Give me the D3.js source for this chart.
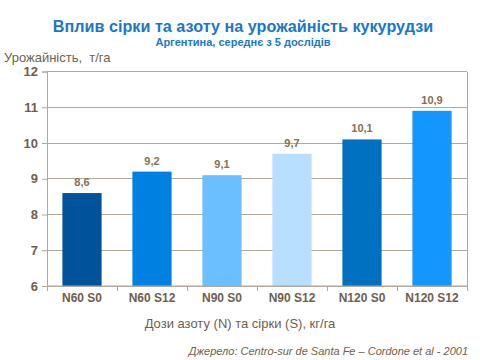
<!DOCTYPE html>
<html><head><meta charset="utf-8">
<script src="https://cdn.jsdelivr.net/npm/d3@7"></script>
<style>body{margin:0;background:#fff;font-family:Arial,"Liberation Sans",sans-serif}</style>
</head><body><svg id="c" width="480" height="360"></svg>
<script>
const categories = ["N60 S0","N60 S12","N90 S0","N90 S12","N120 S0","N120 S12"];
const values = [8.6, 9.2, 9.1, 9.7, 10.1, 10.9];
const valueLabels = ["8,6","9,2","9,1","9,7","10,1","10,9"];
const barColors = ["#00529B","#0080E0","#6BBFFF","#B8DFFF","#0070C0","#1496FF"];
const yTicks = [6,7,8,9,10,11,12];

const svg = d3.select("#c");
const L=47, R=467, T=71.5, B=286;
const x = d3.scaleBand().domain(categories).range([L,R]).paddingInner(0.44).paddingOuter(0.22);
const y = d3.scaleLinear().domain([6,12]).range([B,T]);
const grid="#B0A898", txt="#6E5E4C";

// gridlines
svg.append("g").selectAll("line").data(yTicks).join("line")
  .attr("x1",L).attr("x2",R).attr("y1",d=>y(d)).attr("y2",d=>y(d))
  .attr("stroke",grid).attr("stroke-width",1).attr("shape-rendering","crispEdges");
svg.append("line").attr("x1",R).attr("x2",R).attr("y1",T).attr("y2",B)
  .attr("stroke",grid).attr("shape-rendering","crispEdges");

// bars
svg.append("g").selectAll("rect").data(values).join("rect")
  .attr("x",(d,i)=>x(categories[i])).attr("width",x.bandwidth())
  .attr("y",d=>y(d)).attr("height",d=>B-y(d))
  .attr("fill",(d,i)=>barColors[i]);

// value labels
svg.append("g").selectAll("text").data(values).join("text")
  .attr("x",(d,i)=>x(categories[i])+x.bandwidth()/2).attr("y",d=>y(d)-7)
  .attr("text-anchor","middle").attr("font-size",11).attr("font-weight","bold")
  .attr("fill","#86704F").text((d,i)=>valueLabels[i]);

// y axis
const ya = svg.append("g").attr("transform",`translate(${L},0)`)
  .call(d3.axisLeft(y).tickValues(yTicks).tickFormat(d3.format("d")).tickSize(5).tickPadding(4));
ya.select(".domain").attr("stroke",grid);
ya.selectAll(".tick line").attr("stroke",grid);
ya.selectAll("text").attr("font-size",13).attr("font-weight","bold").attr("fill",txt)
  .attr("font-family","Arial,'Liberation Sans',sans-serif");

// x axis
const xa = svg.append("g").attr("transform",`translate(0,${B})`)
  .call(d3.axisBottom(x).tickSize(0).tickPadding(7));
xa.select(".domain").attr("stroke",grid).attr("d",`M${L},0H${R}`);
xa.selectAll("text").attr("font-size",12).attr("font-weight","bold").attr("fill",txt)
  .attr("font-family","Arial,'Liberation Sans',sans-serif");
svg.append("g").selectAll("line").data(d3.range(categories.length+1)).join("line")
  .attr("x1",i=>L+i*(R-L)/categories.length).attr("x2",i=>L+i*(R-L)/categories.length)
  .attr("y1",B).attr("y2",B+5).attr("stroke",grid).attr("shape-rendering","crispEdges");

// titles
svg.append("text").attr("x",243).attr("y",32).attr("text-anchor","middle")
  .attr("font-size",16.2).attr("font-weight","bold").attr("fill","#1878C8")
  .text("Вплив сірки та азоту на урожайність кукурудзи");
svg.append("text").attr("x",243).attr("y",46).attr("text-anchor","middle")
  .attr("font-size",11).attr("font-weight","bold").attr("fill","#1878C8")
  .text("Аргентина, середнє з 5 дослідів");
svg.append("text").attr("x",4).attr("y",62).attr("font-size",13).attr("fill",txt)
  .attr("xml:space","preserve").text("Урожайність,  т/га");
svg.append("text").attr("x",240).attr("y",328).attr("text-anchor","middle")
  .attr("font-size",13).attr("fill",txt).text("Дози азоту (N) та сірки (S), кг/га");
svg.append("text").attr("x",468).attr("y",355).attr("text-anchor","end")
  .attr("font-size",11).attr("font-style","italic").attr("fill",txt)
  .text("Джерело: Centro-sur de Santa Fe – Cordone et al - 2001");
</script></body></html>
